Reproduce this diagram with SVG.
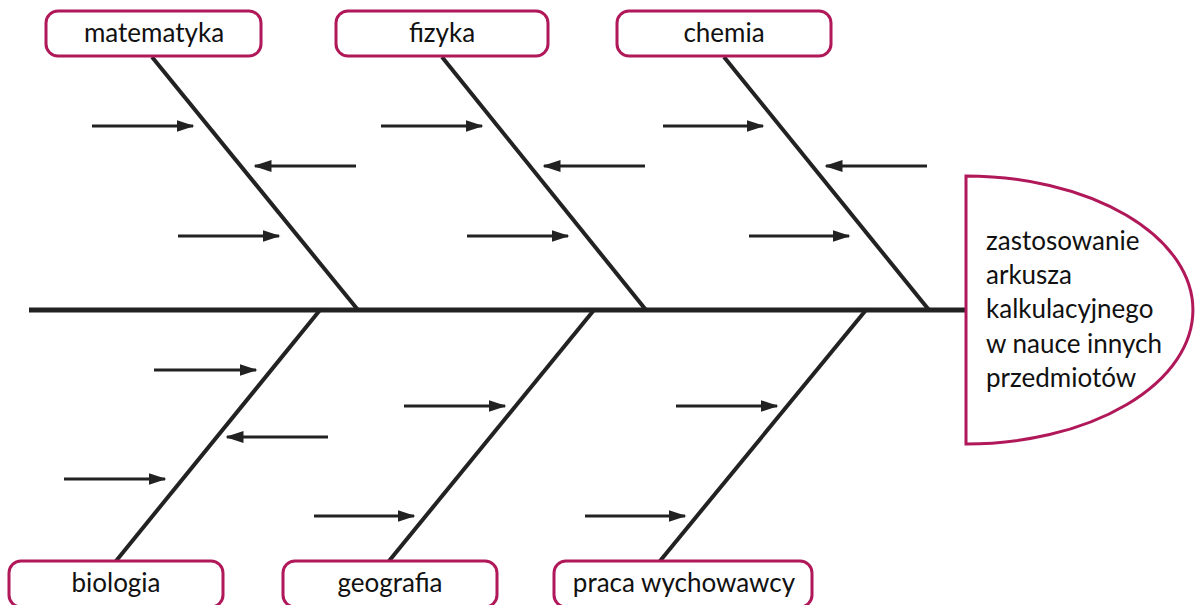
<svg xmlns="http://www.w3.org/2000/svg" width="1195" height="605" viewBox="0 0 1195 605">
<defs>
<style>
.box{fill:#fff;stroke:#b0185a;stroke-width:3}
.lbl{font-family:Lato,"Open Sans","Liberation Sans",sans-serif;font-size:26px;fill:#111;text-anchor:middle}
.head{font-family:Lato,"Open Sans","Liberation Sans",sans-serif;font-size:26px;fill:#111}
.bone{stroke:#222;stroke-width:4;fill:none}
.spine{stroke:#222;stroke-width:5;fill:none}
.arr{stroke:#222;stroke-width:3;fill:none;marker-end:url(#ah)}
</style>
<marker id="ah" markerWidth="6" markerHeight="4" refX="5.5" refY="2" orient="auto" markerUnits="strokeWidth">
<path d="M0,0 L6,2 L0,4 Z" fill="#222"/>
</marker>
</defs>
<rect width="1195" height="605" fill="#fff"/>
<g id="connectors">
<line class="spine" x1="29" y1="310" x2="966" y2="310"/>
<line class="bone" x1="152" y1="57" x2="358" y2="310"/>
<line class="bone" x1="442" y1="57" x2="646" y2="310"/>
<line class="bone" x1="724" y1="57" x2="929" y2="310"/>
<line class="bone" x1="320" y1="310" x2="116" y2="561"/>
<line class="bone" x1="594" y1="310" x2="389" y2="561"/>
<line class="bone" x1="866" y1="310" x2="660" y2="561"/>
<line class="arr" x1="92" y1="126" x2="193" y2="126"/>
<line class="arr" x1="356" y1="166" x2="255" y2="166"/>
<line class="arr" x1="178" y1="236" x2="279" y2="236"/>
<line class="arr" x1="381" y1="126" x2="482" y2="126"/>
<line class="arr" x1="645" y1="166" x2="544" y2="166"/>
<line class="arr" x1="467" y1="236" x2="568" y2="236"/>
<line class="arr" x1="663" y1="126" x2="763" y2="126"/>
<line class="arr" x1="927" y1="166" x2="826" y2="166"/>
<line class="arr" x1="749" y1="236" x2="849" y2="236"/>
<line class="arr" x1="154" y1="370" x2="256" y2="370"/>
<line class="arr" x1="328" y1="437" x2="227" y2="437"/>
<line class="arr" x1="64" y1="479" x2="165" y2="479"/>
<line class="arr" x1="404" y1="406" x2="505" y2="406"/>
<line class="arr" x1="314" y1="516" x2="414" y2="516"/>
<line class="arr" x1="676" y1="406" x2="777" y2="406"/>
<line class="arr" x1="585" y1="516" x2="685" y2="516"/>
</g>
<g id="matematyka"><rect class="box" x="46" y="11" width="215" height="45" rx="12"/><text class="lbl" x="154" y="42">matematyka</text></g>
<g id="fizyka"><rect class="box" x="336" y="11" width="212" height="45" rx="12"/><text class="lbl" x="442" y="42">fizyka</text></g>
<g id="chemia"><rect class="box" x="617" y="11" width="214" height="45" rx="12"/><text class="lbl" x="724" y="42">chemia</text></g>
<g id="biologia"><rect class="box" x="9" y="561" width="214" height="46" rx="12"/><text class="lbl" x="116" y="592">biologia</text></g>
<g id="geografia"><rect class="box" x="283" y="561" width="214" height="46" rx="12"/><text class="lbl" x="390" y="592">geografia</text></g>
<g id="praca"><rect class="box" x="554" y="561" width="258" height="46" rx="12"/><text class="lbl" x="684" y="592">praca wychowawcy</text></g>
<g id="effect">
<path class="box" d="M966,176 A227,134 0 0 1 966,444 Z"/>
<text class="head" x="986"><tspan x="986" y="250">zastosowanie</tspan><tspan x="986" y="284">arkusza</tspan><tspan x="986" y="318">kalkulacyjnego</tspan><tspan x="986" y="353">w nauce innych</tspan><tspan x="986" y="387">przedmiotów</tspan></text>
</g>
</svg>
